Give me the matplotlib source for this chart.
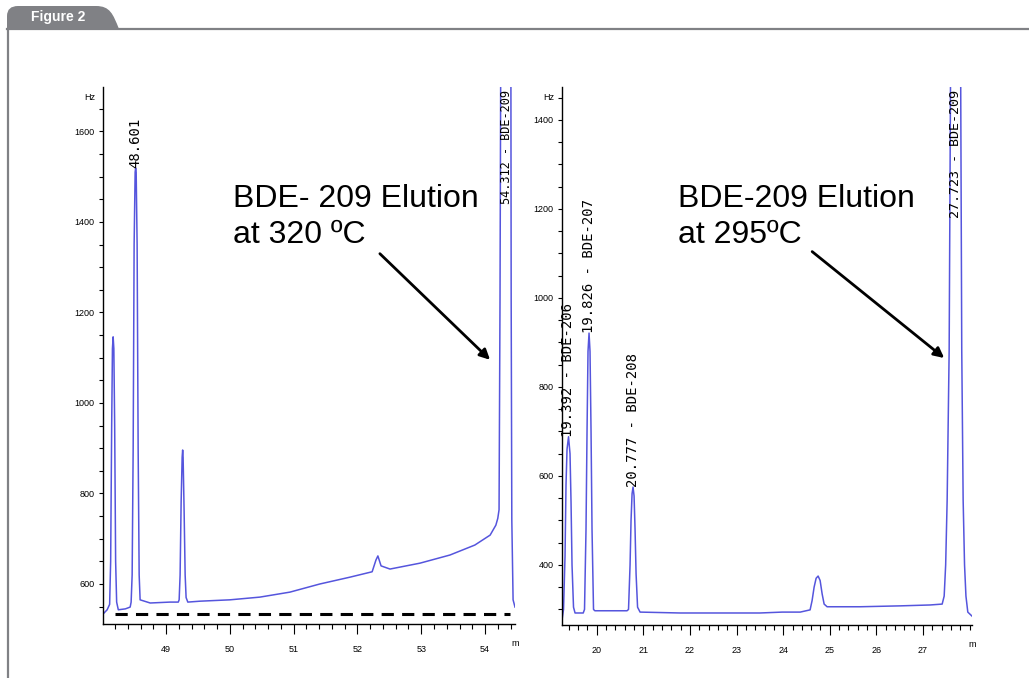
import matplotlib
matplotlib.use("Agg")
import matplotlib.pyplot as plt
from matplotlib.path import Path
from matplotlib.patches import PathPatch
from matplotlib.ticker import MultipleLocator, FixedLocator

# ---------------- data ----------------
# Left chromatogram (elution at 320 C): retention time (min), signal (Hz)
left_time = [48.013, 48.075, 48.114, 48.130, 48.146, 48.158, 48.169, 48.180, 48.193, 48.208,
             48.224, 48.25, 48.36, 48.436,
             48.451, 48.467, 48.483, 48.498, 48.514, 48.522, 48.530, 48.545, 48.561, 48.577,
             48.592, 48.75, 49.06, 49.19,
             49.204, 49.219, 49.235, 49.251, 49.259, 49.266, 49.282, 49.298, 49.313,
             49.34, 49.53, 50.0, 50.47, 50.94,
             51.41, 51.88, 52.23, 52.29, 52.32, 52.37, 52.51, 52.98, 53.45, 53.84,
             54.08, 54.17, 54.20, 54.22, 54.235, 54.26, 54.40, 54.41, 54.42, 54.44, 54.47]
left_signal = [534, 543, 555, 650, 950, 1120, 1146, 1120, 950, 650,
               560, 543, 545, 549,
               560, 620, 900, 1350, 1510, 1519, 1510, 1350, 900, 620,
               565, 558, 560, 560,
               565, 620, 780, 880, 896, 880, 760, 620, 570,
               560, 562, 565, 571, 582,
               600, 615, 627, 653, 662, 640, 633, 646, 664, 686,
               708, 730, 745, 764, 1228, 2400, 2400, 1228, 741, 565, 549]

# Right chromatogram (elution at 295 C)
right_time = [19.255, 19.288, 19.320, 19.341, 19.363, 19.395, 19.427, 19.449, 19.470, 19.502,
              19.535, 19.71,
              19.738, 19.770, 19.792, 19.813, 19.835, 19.856, 19.878, 19.899, 19.931,
              19.96, 20.29, 20.65,
              20.682, 20.715, 20.736, 20.758, 20.779, 20.801, 20.822, 20.844, 20.876,
              20.93, 21.79, 22.645, 23.50, 23.98, 24.365,
              24.577, 24.620, 24.663, 24.706, 24.749, 24.792, 24.835, 24.878, 24.942,
              25.65, 26.51, 27.15, 27.41,
              27.453, 27.485, 27.517, 27.56, 27.59, 27.60, 27.80, 27.807, 27.83, 27.86,
              27.89, 27.92, 27.96, 28.05]
right_signal = [276, 300, 420, 580, 660, 688, 650, 540, 400, 305,
                292, 292,
                300, 480, 700, 880, 921, 880, 700, 480, 300,
                297, 297, 297,
                300, 400, 500, 560, 575, 555, 480, 380, 305,
                294, 292, 292, 292, 294, 294,
                299, 320, 350, 370, 375, 365, 335, 312, 306,
                306, 308, 310, 312,
                330, 400, 546, 883, 1500, 2200, 2200, 1500, 883, 546,
                400, 330, 294, 285]

# Peak labels: (time, signal at label foot, text)
left_peak_t = [48.52, 54.33]
left_peak_v = [1519, 1440]
left_peak_txt = ["48.601", "54.312 - BDE-209"]
left_peak_size = [10, 8.6]

right_peak_t = [19.39, 19.837, 20.78, 27.70]
right_peak_v = [688, 921, 575, 1180]
right_peak_txt = ["19.392 - BDE-206", "19.826 - BDE-207", "20.777 - BDE-208", "27.723 - BDE-209"]
right_peak_size = [10, 10, 10, 9.6]

left_xticks = [49, 50, 51, 52, 53, 54]
left_xticklabels = ["49", "50", "51", "52", "53", "54"]
left_yticks = [600, 800, 1000, 1200, 1400, 1600]
right_xticks = [20, 21, 22, 23, 24, 25, 26, 27]
right_xticklabels = ["20", "21", "22", "23", "24", "25", "26", "27"]
right_yticks = [400, 600, 800, 1000, 1200, 1400]

left_note = "BDE- 209 Elution\nat 320 ºC"
right_note = "BDE-209 Elution\nat 295ºC"

# ---------------- figure ----------------
W, H = 1029, 678
fig = plt.figure(figsize=(W / 100, H / 100), dpi=100)

def px(x, y):
    return (x / 100.0, (H - y) / 100.0)

GRAY = "#808185"
# tab
verts = [px(7, 29), px(7, 16), px(7, 6), px(18, 6), px(96, 6),
         px(110, 6), px(113, 14), px(119, 29), px(7, 29)]
codes = [Path.MOVETO, Path.LINETO, Path.CURVE3, Path.CURVE3, Path.LINETO,
         Path.CURVE4, Path.CURVE4, Path.CURVE4, Path.CLOSEPOLY]
fig.patches.append(PathPatch(Path(verts, codes), transform=fig.dpi_scale_trans,
                             facecolor=GRAY, edgecolor="none"))
fig.text(*px(58, 17.5), "Figure 2", transform=fig.dpi_scale_trans, color="white",
         fontsize=10, fontweight="bold", ha="center", va="center",
         family=["Liberation Sans Narrow", "Liberation Sans", "DejaVu Sans"])
fig.lines.append(plt.Line2D([7 / W, 1.0], [1 - 28.5 / H, 1 - 28.5 / H],
                            transform=fig.transFigure, color=GRAY, lw=1.6))
fig.lines.append(plt.Line2D([8 / W, 8 / W], [1 - 28.5 / H, 0.0],
                            transform=fig.transFigure, color=GRAY, lw=1.6))

TRACE = "#5555dd"
tick_font = dict(family=["Liberation Sans Narrow", "Liberation Sans", "DejaVu Sans"], size=6.5)
label_family = ["DejaVu Sans Mono"]
note_font = dict(family=["Liberation Sans", "DejaVu Sans"], size=23)


def style_axes(ax, xmaj, xlabels, ymaj):
    for s in ("top", "right"):
        ax.spines[s].set_visible(False)
    for s in ("left", "bottom"):
        ax.spines[s].set_linewidth(1.0)
    ax.xaxis.set_major_locator(FixedLocator(xmaj))
    ax.set_xticklabels(xlabels, **tick_font)
    ax.xaxis.set_minor_locator(MultipleLocator(0.2))
    ax.yaxis.set_major_locator(FixedLocator(ymaj))
    ax.set_yticklabels([str(v) for v in ymaj], **tick_font)
    ax.yaxis.set_minor_locator(MultipleLocator(50))
    ax.tick_params(axis="x", which="major", length=7, width=0.8, pad=8)
    ax.tick_params(axis="x", which="minor", length=3.5, width=0.8)
    ax.tick_params(axis="y", which="major", length=3, width=0.8, pad=3)
    ax.tick_params(axis="y", which="minor", length=3, width=0.8)
    ax.text(-0.018, 0.98, "Hz", transform=ax.transAxes, ha="right", va="center", **tick_font)
    ax.text(1.0, -0.037, "m", transform=ax.transAxes, ha="center", va="center", **tick_font)


# left axes
axL = fig.add_axes([103 / W, 1 - 624 / H, 412 / W, 537 / H])
axL.plot(left_time, left_signal, color=TRACE, lw=1.1)
axL.set_xlim(48.01, 54.47)
axL.set_ylim(511.6, 1698)
style_axes(axL, left_xticks, left_xticklabels, left_yticks)
axL.plot([48.2, 54.39], [534, 534], color="black", lw=2.2, ls=(0, (4, 2.7)))
for t, v, s, fs in zip(left_peak_t, left_peak_v, left_peak_txt, left_peak_size):
    axL.text(t, v, s, rotation=90, ha="center", va="bottom", family=label_family, size=fs)
axL.text(50.05, 1484, left_note, ha="left", va="top", linespacing=1.25, **note_font)
axL.annotate("", xy=(54.11, 1091), xytext=(52.32, 1334),
             arrowprops=dict(arrowstyle="-|>", color="black", lw=2, mutation_scale=15))

# right axes
axR = fig.add_axes([562 / W, 1 - 625 / H, 410 / W, 538 / H])
axR.plot(right_time, right_signal, color=TRACE, lw=1.1)
axR.set_xlim(19.255, 28.05)
axR.set_ylim(265, 1474)
style_axes(axR, right_xticks, right_xticklabels, right_yticks)
for t, v, s, fs in zip(right_peak_t, right_peak_v, right_peak_txt, right_peak_size):
    axR.text(t, v, s, rotation=90, ha="center", va="bottom", family=label_family, size=fs)
axR.text(21.74, 1256, right_note, ha="left", va="top", linespacing=1.25, **note_font)
axR.annotate("", xy=(27.50, 861), xytext=(24.575, 1108),
             arrowprops=dict(arrowstyle="-|>", color="black", lw=2, mutation_scale=15))

fig.savefig("out.png", dpi=100)
